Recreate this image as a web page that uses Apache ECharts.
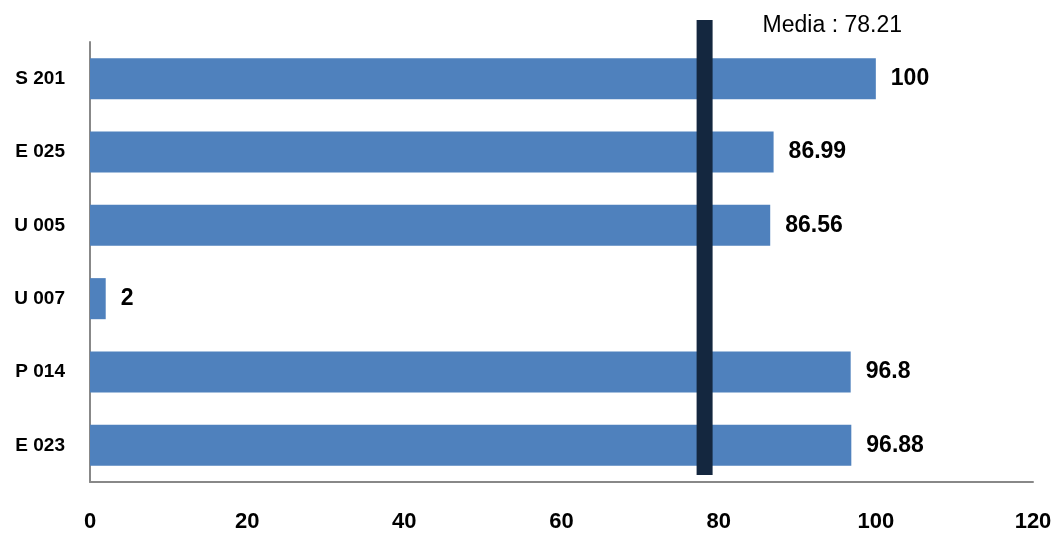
<!DOCTYPE html>
<html>
<head>
<meta charset="utf-8">
<script src="https://cdn.jsdelivr.net/npm/echarts@6/dist/echarts.min.js"></script>
<style>
  html, body { margin: 0; padding: 0; background: #ffffff; }
  #chart { width: 1056px; height: 534px; }
</style>
</head>
<body>
<div id="chart"></div>
<script>
// Categories, listed top to bottom
const categories = ['S 201', 'E 025', 'U 005', 'U 007', 'P 014', 'E 023'];
// Score per category
const values = [100, 86.99, 86.56, 2, 96.8, 96.88];
// Average shown as a vertical reference bar
const meanValue = 78.21;
const meanLabel = 'Media : ' + meanValue.toFixed(2);
// X axis range and step
const xMin = 0;
const xMax = 120;
const xStep = 20;

const font = '"Liberation Sans", Arial, sans-serif';
const chart = echarts.init(document.getElementById('chart'), null, { renderer: 'canvas' });

chart.setOption({
  animation: false,
  backgroundColor: '#ffffff',
  grid: [
    { left: 90, right: 23, top: 42, bottom: 52 },
    { left: 90, right: 23, top: 20, bottom: 59 }
  ],
  xAxis: [
    {
      type: 'value', gridIndex: 0, min: xMin, max: xMax, interval: xStep,
      axisLine: { show: true, lineStyle: { color: '#888888', width: 2 } },
      axisTick: { show: false },
      splitLine: { show: false },
      axisLabel: { color: '#000000', fontFamily: font, fontWeight: 'bold', fontSize: 22, margin: 29 }
    },
    { type: 'value', gridIndex: 1, min: xMin, max: xMax, show: false }
  ],
  yAxis: [
    {
      type: 'category', gridIndex: 0, data: categories, inverse: true,
      axisLine: { show: true, lineStyle: { color: '#888888', width: 2 } },
      axisTick: { show: false },
      axisLabel: { color: '#000000', fontFamily: font, fontWeight: 'bold', fontSize: 19, margin: 25 }
    },
    { type: 'value', gridIndex: 1, min: 0, max: 1, show: false }
  ],
  series: [
    {
      type: 'bar',
      xAxisIndex: 0, yAxisIndex: 0,
      data: values,
      barCategoryGap: '44%',
      itemStyle: { color: '#4F81BD' },
      label: {
        show: true, position: 'right', distance: 15,
        color: '#000000', fontFamily: font, fontWeight: 'bold', fontSize: 23
      }
    },
    {
      type: 'line',
      xAxisIndex: 1, yAxisIndex: 1,
      z: 5,
      symbol: 'circle', symbolSize: 0, showSymbol: true,
      lineStyle: { color: '#14273F', width: 16, cap: 'butt' },
      data: [
        [meanValue, 0],
        {
          value: [meanValue, 1],
          label: {
            show: true, position: 'right', distance: 58, offset: [0, 6],
            formatter: meanLabel,
            color: '#000000', fontFamily: font, fontSize: 23
          }
        }
      ]
    }
  ]
});
</script>
</body>
</html>
